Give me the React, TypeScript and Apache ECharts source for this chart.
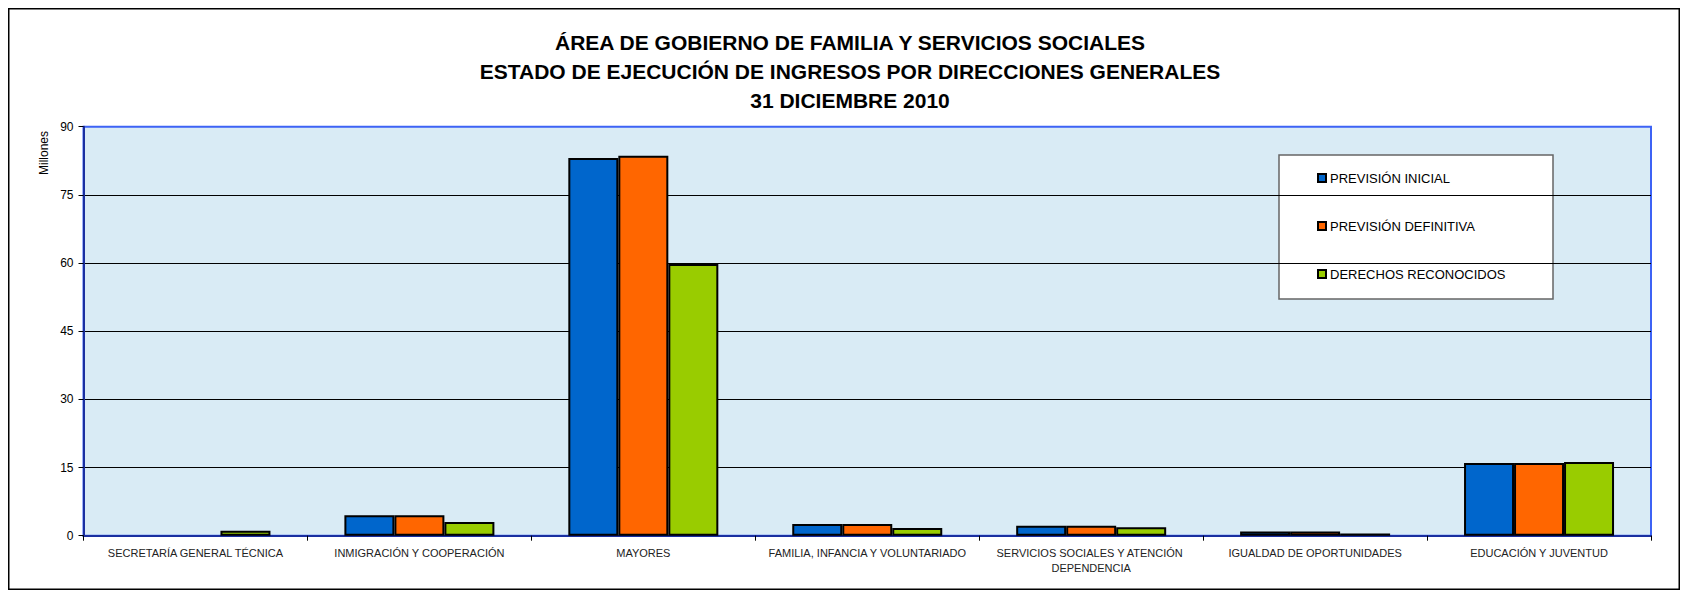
import React, { useEffect, useRef } from "react";
import * as echarts from "echarts";

const categories = [
  "SECRETARÍA GENERAL TÉCNICA",
  "INMIGRACIÓN Y COOPERACIÓN",
  "MAYORES",
  "FAMILIA, INFANCIA Y VOLUNTARIADO",
  "SERVICIOS SOCIALES Y ATENCIÓN DEPENDENCIA",
  "IGUALDAD DE OPORTUNIDADES",
  "EDUCACIÓN Y JUVENTUD",
];
const seriesNames = ["PREVISIÓN INICIAL", "PREVISIÓN DEFINITIVA", "DERECHOS RECONOCIDOS"];
const previsionInicial = [null, 4.5, 83.1, 2.6, 2.2, 0.9, 16.0];
const previsionDefinitiva = [null, 4.5, 83.6, 2.6, 2.2, 0.9, 16.0];
const derechosReconocidos = [1.1, 3.0, 59.8, 1.7, 1.85, 0.5, 16.2];
const titleLines = [
  "ÁREA DE GOBIERNO DE FAMILIA Y SERVICIOS SOCIALES",
  "ESTADO DE EJECUCIÓN DE INGRESOS POR DIRECCIONES GENERALES",
  "31 DICIEMBRE 2010",
];
const yTicks = { min: 0, max: 90, interval: 15 };
const colors = ["#0066CC", "#FF6600", "#99CC00"];

const FONT = "'Liberation Sans', Arial, Helvetica, sans-serif";

export default function App() {
  const ref = useRef<HTMLDivElement>(null);
  useEffect(() => {
    if (!ref.current) return;
    const chart = echarts.init(ref.current, null, { renderer: "svg" });
    const values = [previsionInicial, previsionDefinitiva, derechosReconocidos];
    chart.setOption({
      animation: false,
      textStyle: { fontFamily: FONT },
      grid: {
        left: 75.5,
        right: 29,
        top: 118.7,
        bottom: 54.3,
        show: true,
        backgroundColor: "#D9EBF5",
        borderColor: "#3D63F5",
        borderWidth: 2,
      },
      legend: {
        orient: "vertical",
        left: 1309,
        top: 162,
        itemWidth: 8,
        itemHeight: 8,
        itemGap: 32,
        icon: "rect",
        padding: 0,
        textStyle: { fontSize: 13, color: "#000", fontFamily: FONT, lineHeight: 16, padding: [0, 0, 0, -1] },
        data: seriesNames,
      },
      xAxis: {
        type: "category",
        data: categories,
        axisLine: { lineStyle: { color: "#1A2FA0", width: 2 } },
        axisTick: { show: true, length: 5, lineStyle: { color: "#000" } },
        axisLabel: {
          fontSize: 11,
          color: "#222",
          margin: 10,
          lineHeight: 15,
          width: 210,
          overflow: "break",
          interval: 0,
          fontFamily: FONT,
        },
      },
      yAxis: {
        type: "value",
        min: yTicks.min,
        max: yTicks.max,
        interval: yTicks.interval,
        axisLine: { show: true, lineStyle: { color: "#1A2FA0", width: 2 } },
        axisTick: { show: true, length: 5, lineStyle: { color: "#000" } },
        axisLabel: { fontSize: 12, color: "#000", margin: 10, fontFamily: FONT },
        splitLine: { show: true, showMinLine: false, showMaxLine: false, lineStyle: { color: "#000", width: 1 } },
      },
      series: seriesNames.map((name, i) => ({
        name,
        type: "bar",
        data: values[i],
        barWidth: 50,
        barGap: "0%",
        itemStyle: { color: colors[i], borderColor: "#000", borderWidth: 2 },
      })),
      graphic: [
        {
          type: "rect",
          shape: { x: 0.75, y: 0.75, width: 1670.5, height: 580.5 },
          style: { fill: "none", stroke: "#000", lineWidth: 1.5 },
          silent: true,
          z: 100,
        },
        {
          type: "rect",
          shape: { x: 1271, y: 147, width: 274, height: 144 },
          style: { fill: "#FFFFFF", stroke: "#666", lineWidth: 1.5 },
          silent: true,
          z: 0,
          zlevel: 0,
        },
        {
          type: "text",
          x: 842,
          y: 20,
          style: {
            text: titleLines.join("\n"),
            font: `bold 21px ${FONT}`,
            fill: "#000",
            textAlign: "center",
            textVerticalAlign: "top",
            lineHeight: 29,
          },
        },
        {
          type: "text",
          x: 36,
          y: 145,
          rotation: Math.PI / 2,
          style: {
            text: "Millones",
            font: `12px ${FONT}`,
            fill: "#000",
            textAlign: "center",
            textVerticalAlign: "middle",
          },
        },
      ],
    });
    return () => chart.dispose();
  }, []);
  return <div ref={ref} style={{ width: 1672, height: 582 }} />;
}
